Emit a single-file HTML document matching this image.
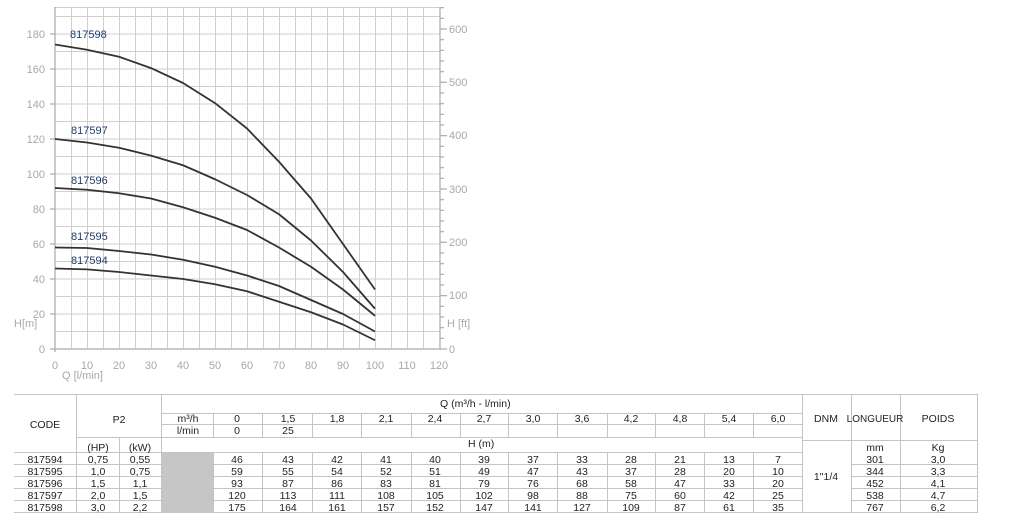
<!DOCTYPE html>
<html><head><meta charset="utf-8"><style>
html,body{margin:0;padding:0;background:#fff;}
svg{display:block;font-family:"Liberation Sans",sans-serif;}
</style></head><body>
<svg width="1012" height="522" viewBox="0 0 1012 522" xmlns="http://www.w3.org/2000/svg">
<g stroke="#cfcfcf" stroke-width="1">
<line x1="55" y1="7.5" x2="440" y2="7.5"/>
<line x1="55" y1="16.5" x2="440" y2="16.5"/><line x1="55" y1="34" x2="440" y2="34"/><line x1="55" y1="51.5" x2="440" y2="51.5"/><line x1="55" y1="69" x2="440" y2="69"/><line x1="55" y1="86.5" x2="440" y2="86.5"/><line x1="55" y1="104" x2="440" y2="104"/><line x1="55" y1="121.5" x2="440" y2="121.5"/><line x1="55" y1="139" x2="440" y2="139"/><line x1="55" y1="156.5" x2="440" y2="156.5"/><line x1="55" y1="174" x2="440" y2="174"/><line x1="55" y1="191.5" x2="440" y2="191.5"/><line x1="55" y1="209" x2="440" y2="209"/><line x1="55" y1="226.5" x2="440" y2="226.5"/><line x1="55" y1="244" x2="440" y2="244"/><line x1="55" y1="261.5" x2="440" y2="261.5"/><line x1="55" y1="279" x2="440" y2="279"/><line x1="55" y1="296.5" x2="440" y2="296.5"/><line x1="55" y1="314" x2="440" y2="314"/><line x1="55" y1="331.5" x2="440" y2="331.5"/>
<line x1="71.5" y1="7" x2="71.5" y2="349"/><line x1="87.5" y1="7" x2="87.5" y2="349"/><line x1="103.5" y1="7" x2="103.5" y2="349"/><line x1="119.5" y1="7" x2="119.5" y2="349"/><line x1="135.5" y1="7" x2="135.5" y2="349"/><line x1="151.5" y1="7" x2="151.5" y2="349"/><line x1="167.5" y1="7" x2="167.5" y2="349"/><line x1="183.5" y1="7" x2="183.5" y2="349"/><line x1="199.5" y1="7" x2="199.5" y2="349"/><line x1="215.5" y1="7" x2="215.5" y2="349"/><line x1="231.5" y1="7" x2="231.5" y2="349"/><line x1="247.5" y1="7" x2="247.5" y2="349"/><line x1="263.5" y1="7" x2="263.5" y2="349"/><line x1="279.5" y1="7" x2="279.5" y2="349"/><line x1="295.5" y1="7" x2="295.5" y2="349"/><line x1="311.5" y1="7" x2="311.5" y2="349"/><line x1="327.5" y1="7" x2="327.5" y2="349"/><line x1="343.5" y1="7" x2="343.5" y2="349"/><line x1="359.5" y1="7" x2="359.5" y2="349"/><line x1="375.5" y1="7" x2="375.5" y2="349"/><line x1="391.5" y1="7" x2="391.5" y2="349"/><line x1="407.5" y1="7" x2="407.5" y2="349"/><line x1="423.5" y1="7" x2="423.5" y2="349"/>
</g>
<g stroke="#aaa" stroke-width="1.2">
<line x1="55" y1="7" x2="55" y2="352"/><line x1="50" y1="349" x2="440" y2="349"/><line x1="440" y1="7" x2="440" y2="349"/>
<line x1="50" y1="34" x2="55" y2="34"/><line x1="50" y1="69" x2="55" y2="69"/><line x1="50" y1="104" x2="55" y2="104"/><line x1="50" y1="139" x2="55" y2="139"/><line x1="50" y1="174" x2="55" y2="174"/><line x1="50" y1="209" x2="55" y2="209"/><line x1="50" y1="244" x2="55" y2="244"/><line x1="50" y1="279" x2="55" y2="279"/><line x1="50" y1="314" x2="55" y2="314"/>
<line x1="440" y1="349" x2="447" y2="349"/><line x1="440" y1="338.3" x2="444" y2="338.3"/><line x1="440" y1="327.7" x2="444" y2="327.7"/><line x1="440" y1="317" x2="444" y2="317"/><line x1="440" y1="306.3" x2="444" y2="306.3"/><line x1="440" y1="295.7" x2="447" y2="295.7"/><line x1="440" y1="285" x2="444" y2="285"/><line x1="440" y1="274.3" x2="444" y2="274.3"/><line x1="440" y1="263.7" x2="444" y2="263.7"/><line x1="440" y1="253" x2="444" y2="253"/><line x1="440" y1="242.3" x2="447" y2="242.3"/><line x1="440" y1="231.7" x2="444" y2="231.7"/><line x1="440" y1="221" x2="444" y2="221"/><line x1="440" y1="210.3" x2="444" y2="210.3"/><line x1="440" y1="199.7" x2="444" y2="199.7"/><line x1="440" y1="189" x2="447" y2="189"/><line x1="440" y1="178.3" x2="444" y2="178.3"/><line x1="440" y1="167.7" x2="444" y2="167.7"/><line x1="440" y1="157" x2="444" y2="157"/><line x1="440" y1="146.3" x2="444" y2="146.3"/><line x1="440" y1="135.7" x2="447" y2="135.7"/><line x1="440" y1="125" x2="444" y2="125"/><line x1="440" y1="114.3" x2="444" y2="114.3"/><line x1="440" y1="103.7" x2="444" y2="103.7"/><line x1="440" y1="93" x2="444" y2="93"/><line x1="440" y1="82.3" x2="447" y2="82.3"/><line x1="440" y1="71.7" x2="444" y2="71.7"/><line x1="440" y1="61" x2="444" y2="61"/><line x1="440" y1="50.3" x2="444" y2="50.3"/><line x1="440" y1="39.7" x2="444" y2="39.7"/><line x1="440" y1="29" x2="447" y2="29"/><line x1="440" y1="18.3" x2="444" y2="18.3"/><line x1="440" y1="7.7" x2="444" y2="7.7"/>
</g>
<g fill="#a8a8a8" font-size="11" text-anchor="end">
<text x="45" y="38">180</text><text x="45" y="73">160</text><text x="45" y="108">140</text><text x="45" y="143">120</text><text x="45" y="178">100</text><text x="45" y="213">80</text><text x="45" y="248">60</text><text x="45" y="283">40</text><text x="45" y="318">20</text><text x="45" y="353">0</text>
</g>
<g fill="#a8a8a8" font-size="11">
<text x="449" y="33">600</text><text x="449" y="86">500</text><text x="449" y="139">400</text><text x="449" y="193">300</text><text x="449" y="246">200</text><text x="449" y="299">100</text><text x="449" y="353">0</text>
<text x="14" y="327">H[m]</text><text x="447" y="327">H [ft]</text><text x="62" y="379">Q [l/min]</text>
</g>
<g fill="#a8a8a8" font-size="11" text-anchor="middle">
<text x="55" y="369">0</text><text x="87" y="369">10</text><text x="119" y="369">20</text><text x="151" y="369">30</text><text x="183" y="369">40</text><text x="215" y="369">50</text><text x="247" y="369">60</text><text x="279" y="369">70</text><text x="311" y="369">80</text><text x="343" y="369">90</text><text x="375" y="369">100</text><text x="407" y="369">110</text><text x="439" y="369">120</text>
</g>
<g fill="none" stroke="#333" stroke-width="1.8" stroke-linejoin="round">
<polyline points="55,268.5 87,269.4 119,272 151,275.5 183,279 215,284.25 247,291.25 279,301.75 311,312.25 343,324.5 375,340.25"/>
<polyline points="55,247.5 87,248 119,251 151,254.5 183,259.75 215,266.75 247,275.5 279,286 311,300 343,314 375,331.5"/>
<polyline points="55,188 87,189.75 119,193.25 151,198.5 183,207.25 215,217.75 247,230 279,247.5 311,266.75 343,289.5 375,315.75"/>
<polyline points="55,139 87,142.5 119,147.75 151,155.6 183,165.25 215,179.25 247,195 279,214.25 311,240.5 343,272 375,308.75"/>
<polyline points="55,44.5 87,49.75 119,56.75 151,68.1 183,83 215,103.1 247,128.5 279,161.75 311,198.5 343,244 375,289.5"/>
</g>
<g fill="#1f3c6e" font-size="11">
<text x="70" y="38">817598</text><text x="71" y="134">817597</text><text x="71" y="184">817596</text><text x="71" y="240">817595</text><text x="71" y="264">817594</text>
</g>
<rect x="162" y="453" width="51" height="60" fill="#c6c6c6"/>
<g stroke="#c4c4c4" stroke-width="1">
<line x1="14" y1="394.5" x2="977" y2="394.5"/>
<line x1="162" y1="413.5" x2="802" y2="413.5"/>
<line x1="162" y1="424.5" x2="802" y2="424.5"/>
<line x1="76" y1="437.5" x2="802" y2="437.5"/>
<line x1="802" y1="440.5" x2="977" y2="440.5"/>
<line x1="14" y1="452.5" x2="802" y2="452.5"/>
<line x1="14" y1="464.5" x2="802" y2="464.5"/><line x1="851" y1="464.5" x2="977" y2="464.5"/>
<line x1="14" y1="476.5" x2="802" y2="476.5"/><line x1="851" y1="476.5" x2="977" y2="476.5"/>
<line x1="14" y1="488.5" x2="802" y2="488.5"/><line x1="851" y1="488.5" x2="977" y2="488.5"/>
<line x1="14" y1="500.5" x2="802" y2="500.5"/><line x1="851" y1="500.5" x2="977" y2="500.5"/>
<line x1="14" y1="512.5" x2="977" y2="512.5"/>
<line x1="76.5" y1="394" x2="76.5" y2="513"/><line x1="119.5" y1="437" x2="119.5" y2="513"/><line x1="161.5" y1="394" x2="161.5" y2="513"/>
<line x1="213.5" y1="413" x2="213.5" y2="437"/><line x1="213.5" y1="452" x2="213.5" y2="513"/>
<line x1="262.5" y1="413" x2="262.5" y2="437"/><line x1="312.5" y1="413" x2="312.5" y2="437"/><line x1="361.5" y1="413" x2="361.5" y2="437"/><line x1="411.5" y1="413" x2="411.5" y2="437"/><line x1="460.5" y1="413" x2="460.5" y2="437"/><line x1="508.5" y1="413" x2="508.5" y2="437"/><line x1="557.5" y1="413" x2="557.5" y2="437"/><line x1="607.5" y1="413" x2="607.5" y2="437"/><line x1="655.5" y1="413" x2="655.5" y2="437"/><line x1="704.5" y1="413" x2="704.5" y2="437"/><line x1="753.5" y1="413" x2="753.5" y2="437"/>
<line x1="262.5" y1="452" x2="262.5" y2="513"/><line x1="312.5" y1="452" x2="312.5" y2="513"/><line x1="361.5" y1="452" x2="361.5" y2="513"/><line x1="411.5" y1="452" x2="411.5" y2="513"/><line x1="460.5" y1="452" x2="460.5" y2="513"/><line x1="508.5" y1="452" x2="508.5" y2="513"/><line x1="557.5" y1="452" x2="557.5" y2="513"/><line x1="607.5" y1="452" x2="607.5" y2="513"/><line x1="655.5" y1="452" x2="655.5" y2="513"/><line x1="704.5" y1="452" x2="704.5" y2="513"/><line x1="753.5" y1="452" x2="753.5" y2="513"/>
<line x1="802.5" y1="394" x2="802.5" y2="513"/><line x1="851.5" y1="394" x2="851.5" y2="513"/><line x1="900.5" y1="394" x2="900.5" y2="513"/><line x1="977.5" y1="394" x2="977.5" y2="513"/>
</g>
<g fill="#222" font-size="10.5" text-anchor="middle">
<text x="45" y="428">CODE</text><text x="119" y="423">P2</text>
<text x="98" y="451">(HP)</text><text x="140" y="451">(kW)</text>
<text x="826" y="422">DNM</text><text x="875" y="422" font-size="10">LONGUEUR</text><text x="938" y="422">POIDS</text>
<text x="826" y="480">1"1/4</text>
<text x="875" y="451">mm</text><text x="938" y="451">Kg</text>
<text x="188" y="422">m³/h</text><text x="188" y="434">l/min</text>
<text x="237" y="422">0</text><text x="237" y="434">0</text><text x="288" y="422">1,5</text><text x="288" y="434">25</text>
<text x="337" y="422">1,8</text><text x="386" y="422">2,1</text><text x="435" y="422">2,4</text><text x="484" y="422">2,7</text><text x="533" y="422">3,0</text><text x="582" y="422">3,6</text><text x="631" y="422">4,2</text><text x="680" y="422">4,8</text><text x="729" y="422">5,4</text><text x="778" y="422">6,0</text>
</g>
<g fill="#222" font-size="10.5">
<text x="440" y="407">Q (m³/h - l/min)</text><text x="468" y="447">H (m)</text>
</g>
<g fill="#222" font-size="10.5" text-anchor="middle">
<g transform="translate(0,463)"><text x="45">817594</text><text x="98">0,75</text><text x="140">0,55</text><text x="237">46</text><text x="288">43</text><text x="337">42</text><text x="386">41</text><text x="435">40</text><text x="484">39</text><text x="533">37</text><text x="582">33</text><text x="631">28</text><text x="680">21</text><text x="729">13</text><text x="778">7</text><text x="875">301</text><text x="938">3,0</text></g>
<g transform="translate(0,475)"><text x="45">817595</text><text x="98">1,0</text><text x="140">0,75</text><text x="237">59</text><text x="288">55</text><text x="337">54</text><text x="386">52</text><text x="435">51</text><text x="484">49</text><text x="533">47</text><text x="582">43</text><text x="631">37</text><text x="680">28</text><text x="729">20</text><text x="778">10</text><text x="875">344</text><text x="938">3,3</text></g>
<g transform="translate(0,487)"><text x="45">817596</text><text x="98">1,5</text><text x="140">1,1</text><text x="237">93</text><text x="288">87</text><text x="337">86</text><text x="386">83</text><text x="435">81</text><text x="484">79</text><text x="533">76</text><text x="582">68</text><text x="631">58</text><text x="680">47</text><text x="729">33</text><text x="778">20</text><text x="875">452</text><text x="938">4,1</text></g>
<g transform="translate(0,499)"><text x="45">817597</text><text x="98">2,0</text><text x="140">1,5</text><text x="237">120</text><text x="288">113</text><text x="337">111</text><text x="386">108</text><text x="435">105</text><text x="484">102</text><text x="533">98</text><text x="582">88</text><text x="631">75</text><text x="680">60</text><text x="729">42</text><text x="778">25</text><text x="875">538</text><text x="938">4,7</text></g>
<g transform="translate(0,511)"><text x="45">817598</text><text x="98">3,0</text><text x="140">2,2</text><text x="237">175</text><text x="288">164</text><text x="337">161</text><text x="386">157</text><text x="435">152</text><text x="484">147</text><text x="533">141</text><text x="582">127</text><text x="631">109</text><text x="680">87</text><text x="729">61</text><text x="778">35</text><text x="875">767</text><text x="938">6,2</text></g>
</g>
</svg>
</body></html>
